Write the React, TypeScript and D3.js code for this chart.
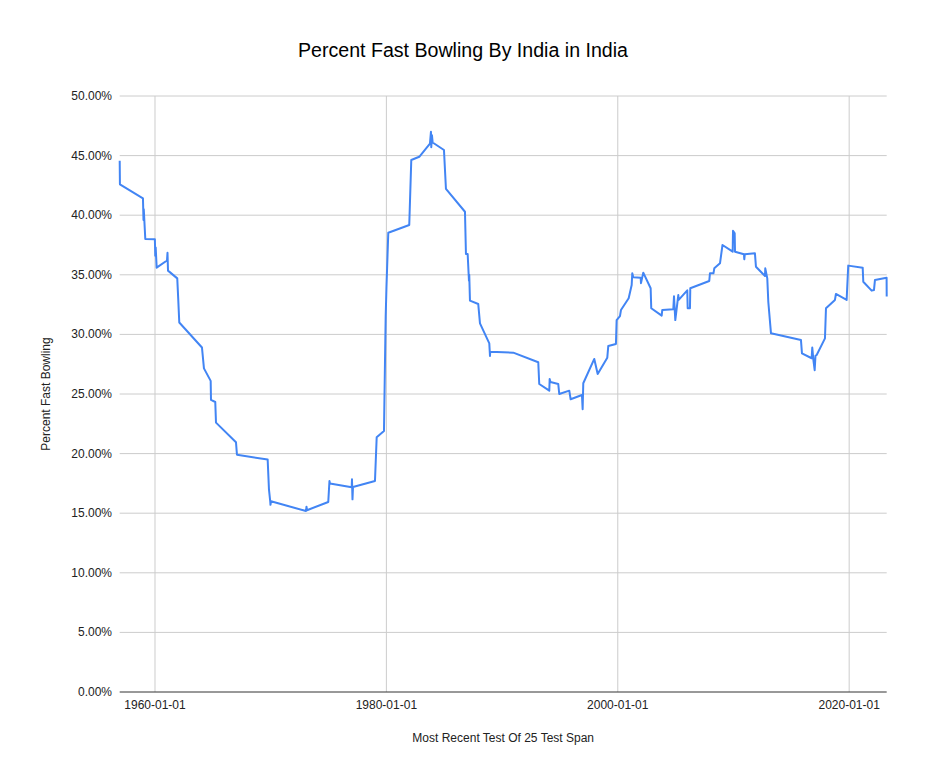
import React from "react";
import * as d3 from "d3";

const title = "Percent Fast Bowling By India in India";
const xAxisTitle = "Most Recent Test Of 25 Test Span";
const yAxisTitle = "Percent Fast Bowling";

const dates: string[] = [
  "1956-12-13", "1956-12-20", "1958-12-17", "1959-01-03", "1959-01-12", "1959-03-01",
  "1959-12-28", "1960-01-10", "1960-01-23", "1960-02-23", "1961-01-14", "1961-01-30",
  "1961-02-15", "1961-12-04", "1962-01-05", "1962-02-06", "1964-01-23", "1964-03-26",
  "1964-10-24", "1964-11-03", "1965-03-18", "1965-04-10", "1967-01-01", "1967-02-01",
  "1969-09-27", "1969-11-07", "1969-12-18", "1969-12-25", "1970-01-10", "1973-01-19",
  "1973-02-04", "1973-02-20", "1974-12-23", "1975-01-30", "1975-02-15", "1977-01-01",
  "1977-01-10", "1977-01-26", "1977-02-11", "1979-01-06", "1979-03-01", "1979-10-17",
  "1979-11-17", "1979-12-10", "1980-01-04", "1980-03-01", "1981-12-23", "1982-02-25",
  "1982-11-04", "1983-10-08", "1983-11-08", "1983-11-18", "1983-12-10", "1984-01-01",
  "1984-12-23", "1985-02-24", "1986-10-17", "1986-11-17", "1987-01-10", "1987-02-20",
  "1987-03-01", "1987-03-24", "1987-12-10", "1988-02-03", "1988-11-23", "1988-12-15",
  "1988-12-21", "1990-12-20", "1993-02-16", "1993-03-19", "1994-01-30", "1994-02-11",
  "1994-03-08", "1994-11-09", "1994-12-11", "1995-10-23", "1995-12-05", "1996-11-26",
  "1996-12-18", "1997-01-07", "1997-12-20", "1998-04-07", "1999-02-04", "1999-03-07",
  "1999-11-04", "1999-11-26", "2000-03-10", "2000-04-11", "2000-12-10", "2001-03-15",
  "2001-04-03", "2001-05-05", "2001-12-24", "2002-01-03", "2002-03-16", "2002-11-04",
  "2002-11-23", "2003-10-18", "2003-11-06", "2004-10-19", "2004-11-10", "2004-12-21",
  "2005-03-26", "2005-04-07", "2006-01-03", "2006-01-16", "2006-03-29", "2006-04-08",
  "2007-11-28", "2007-12-20", "2008-04-09", "2008-05-05", "2008-11-01", "2009-01-19",
  "2009-12-07", "2009-12-17", "2010-02-08", "2010-02-18", "2010-11-28", "2010-12-08",
  "2010-12-24", "2011-11-09", "2011-12-11", "2012-09-21", "2012-10-01", "2012-12-03",
  "2013-01-04", "2013-03-30", "2015-11-01", "2015-12-03", "2016-10-04", "2016-10-23",
  "2016-11-30", "2017-01-07", "2017-02-01", "2017-03-11", "2017-11-28", "2017-12-30",
  "2018-10-09", "2018-11-09", "2019-10-13", "2019-12-03", "2021-03-03", "2021-03-22",
  "2021-12-11", "2022-02-22", "2022-03-25", "2023-03-28", "2023-03-31",
];

const percentFast: number[] = [
  44.57, 42.59, 41.42, 39.6, 40.5, 38.0,
  37.98, 36.6, 37.3, 35.6, 36.2, 36.85,
  35.35, 34.7, 32.9, 31.0, 28.9, 27.15,
  26.1, 24.5, 24.33, 22.6, 20.95, 19.9,
  19.5, 17.0, 15.97, 15.7, 16.0, 15.18,
  15.55, 15.25, 15.94, 17.7, 17.5, 17.17,
  17.84, 16.16, 17.2, 17.7, 21.37, 21.9,
  27.5, 31.5, 34.0, 38.53, 39.18, 44.63,
  44.9, 46.0, 47.0, 45.7, 46.7, 46.1,
  45.47, 42.2, 40.29, 36.74, 36.74, 34.5,
  35.0, 32.83, 32.55, 30.93, 29.25, 28.19,
  28.55, 28.47, 27.66, 25.84, 25.28, 26.26,
  26.0, 25.84, 25.0, 25.28, 24.56, 24.92,
  23.72, 25.9, 27.94, 26.68, 28.05, 29.03,
  29.19, 31.2, 31.54, 32.05, 33.03, 34.14,
  35.12, 34.79, 34.76, 34.3, 35.18, 33.87,
  32.19, 31.57, 32.05, 32.1, 33.2, 31.2,
  33.3, 32.89, 33.7, 32.19, 32.19, 33.87,
  34.48, 35.12, 35.12, 35.54, 35.96, 37.5,
  36.94, 38.7, 38.48, 36.94, 36.72, 36.3,
  36.72, 36.8, 35.68, 34.9, 35.54, 34.7,
  32.74, 30.09, 29.53, 28.41, 28.0, 28.9,
  27.8, 27.0, 28.2, 28.27, 29.67, 32.19,
  32.89, 33.39, 32.89, 35.77, 35.6, 34.42,
  33.67, 33.72, 34.56, 34.76, 33.17,
];

const yTicks: number[] = [0, 5, 10, 15, 20, 25, 30, 35, 40, 45, 50];
const xTickLabels: string[] = ["1960-01-01", "1980-01-01", "2000-01-01", "2020-01-01"];

const W = 926;
const H = 784;
const M = { left: 119.7, right: 886.7, top: 96, bottom: 692 };
const FONT = "'Liberation Sans', Arial, sans-serif";

export default function App() {
  const parse = d3.utcParse("%Y-%m-%d");
  const pts = dates.map((d, i) => ({ date: parse(d)!, v: percentFast[i] }));
  const x = d3
    .scaleUtc()
    .domain(d3.extent(pts, (p) => p.date) as [Date, Date])
    .range([M.left, M.right]);
  const y = d3.scaleLinear().domain([0, 50]).range([M.bottom, M.top]);
  const line = d3
    .line<{ date: Date; v: number }>()
    .x((p) => x(p.date))
    .y((p) => y(p.v));
  const xTicks = xTickLabels.map((s) => ({ s, d: parse(s)! }));

  return (
    <svg
      width={W}
      height={H}
      style={{ position: "absolute", left: 0, top: 0, background: "#fff" }}
    >
      <rect x={0} y={0} width={W} height={H} fill="#fff" />
      <text
        x={463}
        y={57}
        textAnchor="middle"
        fontFamily={FONT}
        fontSize={19.6}
        fill="#000"
      >
        {title}
      </text>
      {yTicks.map((t) =>
        t === 0 ? null : (
          <line
            key={"gy" + t}
            x1={M.left}
            x2={M.right}
            y1={y(t)}
            y2={y(t)}
            stroke="#cccccc"
            strokeWidth={1}
          />
        )
      )}
      {xTicks.map((t) => (
        <line
          key={"gx" + t.s}
          x1={x(t.d)}
          x2={x(t.d)}
          y1={M.top}
          y2={M.bottom}
          stroke="#cccccc"
          strokeWidth={1}
        />
      ))}
      {yTicks.map((t) => (
        <text
          key={"ty" + t}
          x={112}
          y={y(t) + 4}
          textAnchor="end"
          fontFamily={FONT}
          fontSize={12}
          fill="#222"
        >
          {d3.format(".2f")(t) + "%"}
        </text>
      ))}
      {xTicks.map((t) => (
        <text
          key={"tx" + t.s}
          x={x(t.d)}
          y={709}
          textAnchor="middle"
          fontFamily={FONT}
          fontSize={12}
          fill="#222"
        >
          {t.s}
        </text>
      ))}
      <line
        x1={M.left}
        x2={M.right}
        y1={M.bottom}
        y2={M.bottom}
        stroke="#333"
        strokeWidth={1}
      />
      <path
        d={line(pts) || ""}
        fill="none"
        stroke="#4285f4"
        strokeWidth={2}
        strokeLinejoin="round"
      />
      <text
        x={(M.left + M.right) / 2}
        y={742}
        textAnchor="middle"
        fontFamily={FONT}
        fontSize={12}
        fill="#222"
      >
        {xAxisTitle}
      </text>
      <text
        transform={`translate(50, ${(M.top + M.bottom) / 2}) rotate(-90)`}
        textAnchor="middle"
        fontFamily={FONT}
        fontSize={12}
        fill="#222"
      >
        {yAxisTitle}
      </text>
    </svg>
  );
}
